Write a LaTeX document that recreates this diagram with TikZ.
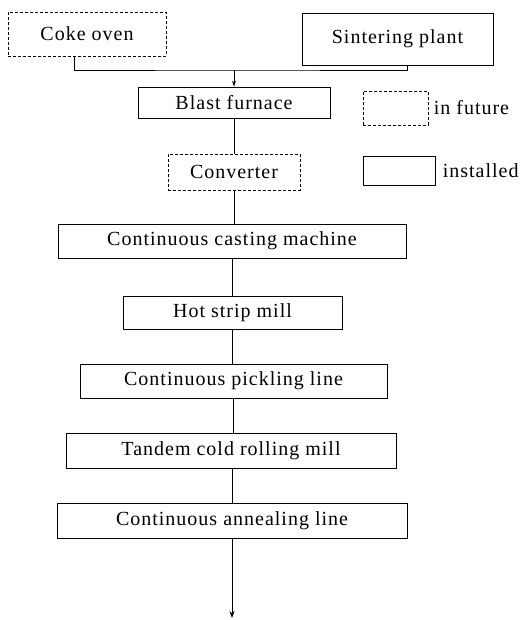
\documentclass[tikz,border=0pt]{standalone}
\usepackage{fontspec}
\setmainfont[LetterSpace=5]{Liberation Serif}
\usetikzlibrary{arrows.meta}

\tikzset{
  plant/.style={draw, line width=0.8pt, inner sep=0pt, font=\fontsize{20}{24}\selectfont},
  future/.style={plant, dash pattern=on 3pt off 2pt},
  flow/.style={line width=0.8pt},
}

\begin{document}
\begin{tikzpicture}[x=1pt,y=1pt]
  \useasboundingbox (0,0) rectangle (526,-620);

  % raw material plants
  \node[future, minimum width=158pt, minimum height=44pt] (coke) at (87,-34) {Coke oven};
  \node[plant, minimum width=191pt, minimum height=52pt] (sinter) at (397.5,-39) {Sintering plant};

  % main line
  \node[plant, minimum width=192pt, minimum height=31pt] (blast) at (234,-102.5) {Blast furnace};
  \node[future, minimum width=132pt, minimum height=36pt] (conv) at (234,-172) {Converter};
  \node[plant, minimum width=348pt, minimum height=34pt] (cast) at (232,-241) {Continuous casting machine};
  \node[plant, minimum width=219pt, minimum height=33pt] (hot) at (232.5,-312.5) {Hot strip mill};
  \node[plant, minimum width=307pt, minimum height=34pt] (pickle) at (233.5,-381) {Continuous pickling line};
  \node[plant, minimum width=330pt, minimum height=35pt] (tandem) at (231,-450.5) {Tandem cold rolling mill};
  \node[plant, minimum width=350pt, minimum height=35pt] (anneal) at (232,-520.5) {Continuous annealing line};

  % legend
  \node[future, minimum width=65pt, minimum height=34pt] (legfut) at (395.5,-108) {};
  \node[plant, anchor=west, draw=none, xshift=5pt] (futtxt) at (legfut.east) {in future};
  \node[plant, minimum width=72pt, minimum height=29pt] (leginst) at (399,-170.5) {};
  \node[plant, anchor=west, draw=none, xshift=7pt] (insttxt) at (leginst.east) {installed};

  % connectors
  \coordinate (join) at (234,-70);
  \coordinate (out) at (232,-618);
  \draw[flow] ([xshift=-13pt]coke.south) |- (join) -| ([xshift=9.5pt]sinter.south);
  \draw[flow, -{Stealth[length=6pt,width=4pt]}] (join) -- (blast.north);
  \draw[flow] (blast.south) -- (conv.north);
  \draw[flow] (conv.south) -- (conv.south |- cast.north);
  \draw[flow] (cast.south) -- (cast.south |- hot.north);
  \draw[flow] (hot.south) -- (hot.south |- pickle.north);
  \draw[flow] ([xshift=-0.5pt]pickle.south) -- ([xshift=-0.5pt]pickle.south |- tandem.north);
  \draw[flow] ([xshift=1pt]tandem.south) -- ([xshift=1pt]tandem.south |- anneal.north);
  \draw[flow, -{Stealth[length=7pt,width=5pt]}] (anneal.south) -- (out);
\end{tikzpicture}
\end{document}
